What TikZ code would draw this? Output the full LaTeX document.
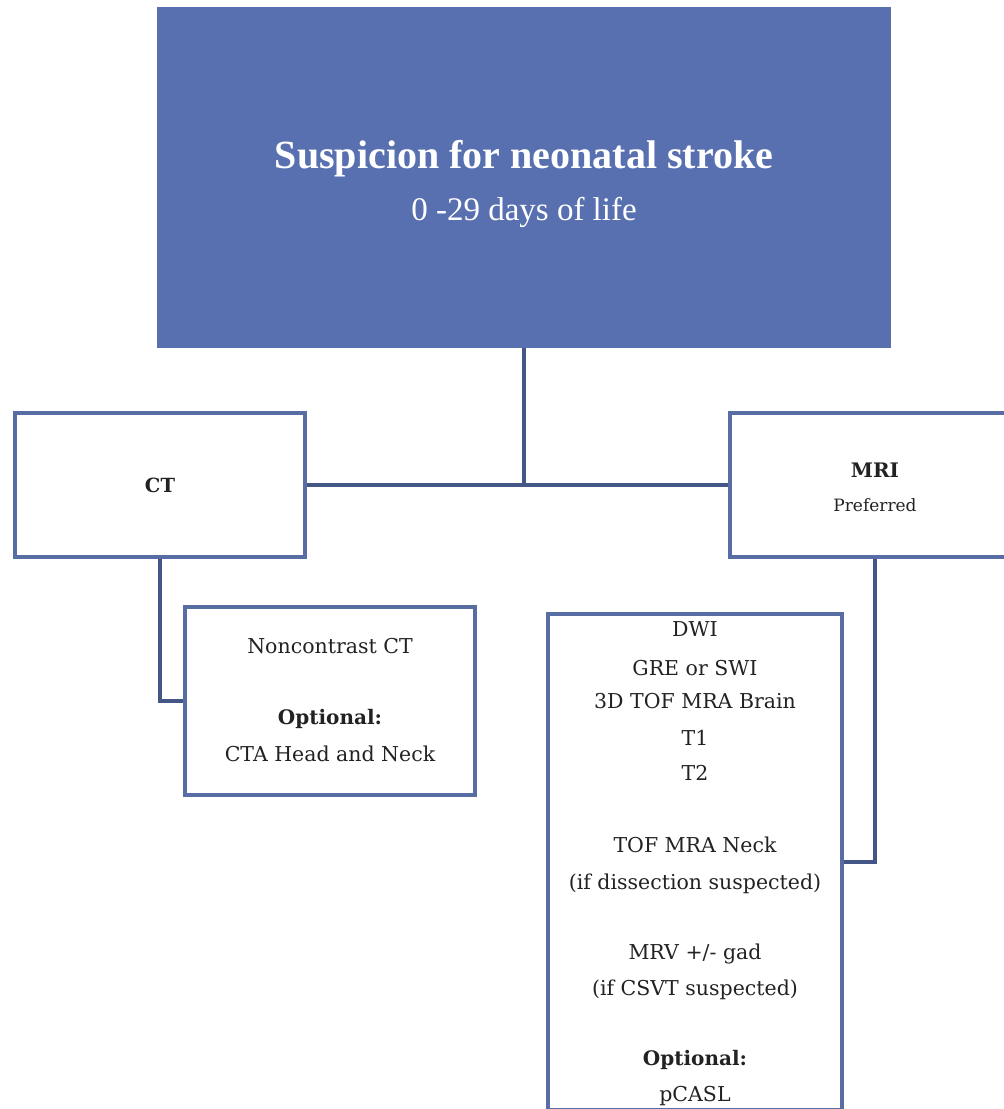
\documentclass[tikz,border=0pt]{standalone}
\usepackage{fontspec}
\setmainfont{DejaVu Serif}
\newfontfamily\titlefont{Liberation Serif}
\definecolor{topblue}{RGB}{88,112,176}
\definecolor{boxblue}{RGB}{88,109,163}
\definecolor{linkblue}{RGB}{68,86,134}
\definecolor{txt}{RGB}{34,34,34}
\tikzset{
  topbox/.style={rectangle, fill=topblue, draw=none, minimum width=734pt, minimum height=341pt, inner sep=0pt},
  whitebox/.style={rectangle, draw=boxblue, line width=4pt, fill=white, inner sep=0pt},
  link/.style={draw=linkblue, line width=3.5pt},
  txtline/.style={anchor=base, inner sep=0pt, text=txt, font=\fontsize{20.5}{24}\selectfont},
  boldline/.style={txtline, font=\bfseries\fontsize{20}{24}\selectfont},
}
\begin{document}
\begin{tikzpicture}[x=1pt,y=-1pt]
\useasboundingbox (0,0) rectangle (1004,1109);
\clip (0,0) rectangle (1004,1109);
\fill[white] (0,0) rectangle (1004,1109);

% top box
\node[topbox] (top) at (524,177.5) {};
\node[anchor=base, inner sep=0pt, text=white, font=\titlefont\bfseries\fontsize{40}{44}\selectfont] (title) at (524,168) {Suspicion for neonatal stroke};
\node[anchor=base, inner sep=0pt, text=white, font=\titlefont\fontsize{33}{38}\selectfont] (subtitle) at (524,220) {0 -29 days of life};

% second level boxes
\node[whitebox, minimum width=290pt, minimum height=144pt] (ct) at (160,485) {};
\node[whitebox, minimum width=290pt, minimum height=144pt] (mri) at (875,485) {};

% third level boxes
\node[whitebox, minimum width=290pt, minimum height=188pt] (nc) at (330,701) {};
\node[whitebox, minimum width=294pt, minimum height=496pt] (list) at (695,862) {};

% connectors
\draw[link] (top.south) -- (top.south |- ct.east);
\draw[link] (ct.east) -- (mri.west);
\draw[link] (ct.south) -- (ct.south |- nc.west) -- (nc.west);
\draw[link] (mri.south) -- (mri.south |- list.east) -- (list.east);

% CT texts
\node[boldline, font=\bfseries\fontsize{19.5}{23}\selectfont] (ctlabel) at (160,492) {CT};
% MRI texts
\node[boldline] (mrilabel) at (875,477) {MRI};
\node[txtline, font=\fontsize{17}{20}\selectfont] (mripref) at (875,511) {Preferred};

% Noncontrast box texts
\node[txtline] (nc1) at (330,653) {Noncontrast CT};
\node[boldline] (nc2) at (330,724) {Optional:};
\node[txtline] (nc3) at (330,761) {CTA Head and Neck};

% MRI list texts
\node[txtline] (l1) at (695,636) {DWI};
\node[txtline] (l2) at (695,675) {GRE or SWI};
\node[txtline] (l3) at (695,708) {3D TOF MRA Brain};
\node[txtline] (l4) at (695,745) {T1};
\node[txtline] (l5) at (695,780) {T2};
\node[txtline] (l6) at (695,852) {TOF MRA Neck};
\node[txtline] (l7) at (695,889) {(if dissection suspected)};
\node[txtline] (l8) at (695,959) {MRV +/- gad};
\node[txtline] (l9) at (695,995) {(if CSVT suspected)};
\node[boldline] (l10) at (695,1065) {Optional:};
\node[txtline] (l11) at (695,1101) {pCASL};
\end{tikzpicture}
\end{document}
